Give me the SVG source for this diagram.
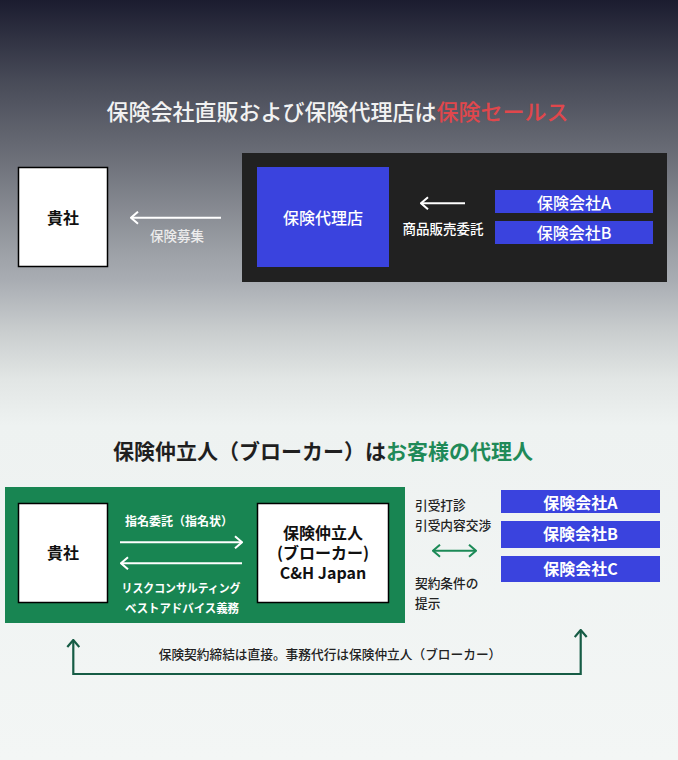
<svg xmlns="http://www.w3.org/2000/svg" width="678" height="760" viewBox="0 0 678 760">
  <defs>
    <linearGradient id="bg" x1="0" y1="0" x2="0" y2="760" gradientUnits="userSpaceOnUse">
      <stop offset="0" stop-color="#1b1c2f"/>
      <stop offset="0.105" stop-color="#474a57"/>
      <stop offset="0.21" stop-color="#6d7079"/>
      <stop offset="0.33" stop-color="#9ca0a6"/>
      <stop offset="0.37" stop-color="#a9adb3"/>
      <stop offset="0.435" stop-color="#c9cdce"/>
      <stop offset="0.5" stop-color="#e2e6e5"/>
      <stop offset="0.56" stop-color="#eef2f1"/>
      <stop offset="1" stop-color="#f3f6f5"/>
    </linearGradient>
    <marker id="ahW" viewBox="0 0 10 14" refX="9" refY="7" markerWidth="10" markerHeight="14" markerUnits="userSpaceOnUse" orient="auto-start-reverse">
      <path d="M2,1 L9,7 L2,13" fill="none" stroke="#ffffff" stroke-width="2"/>
    </marker>
    <marker id="ahG" viewBox="0 0 10 14" refX="9" refY="7" markerWidth="10" markerHeight="14" markerUnits="userSpaceOnUse" orient="auto-start-reverse">
      <path d="M2,1 L9,7 L2,13" fill="none" stroke="#1c8a57" stroke-width="2"/>
    </marker>
    <marker id="ahD" viewBox="0 0 10 14" refX="9" refY="7" markerWidth="10" markerHeight="14" markerUnits="userSpaceOnUse" orient="auto-start-reverse">
      <path d="M2,1 L9,7 L2,13" fill="none" stroke="#165c45" stroke-width="2.2"/>
    </marker>
    <style>
      text { font-family: "Noto Sans CJK JP", "Noto Sans", "Liberation Sans", sans-serif; }
      .title { font-size: 22px; font-weight: 700; text-anchor: middle; }
      .box-white { fill: #ffffff; stroke: #000000; stroke-width: 1.5; }
      .blue { fill: #3a43de; }
      .lbl16 { font-size: 16px; font-weight: 700; text-anchor: middle; }
      .wtxt { fill: #ffffff; }
      .btxt { fill: #111111; }
      .small { font-size: 13.5px; font-weight: 500; text-anchor: middle; }
      .side { font-size: 12.7px; font-weight: 500; fill: #222222; }
      .wl { fill: none; stroke: #ffffff; stroke-width: 2; }
    </style>
  </defs>

  <rect x="0" y="0" width="678" height="760" fill="url(#bg)"/>

  <!-- Top section -->
  <text class="title" x="337.5" y="120" fill="#f2f2f2" style="font-weight:500">保険会社直販および保険代理店は<tspan fill="#e0474c">保険セールス</tspan></text>

  <g id="top-kisha">
    <rect class="box-white" x="18.5" y="167.5" width="89" height="99"/>
    <text class="lbl16 btxt" x="63" y="223.5">貴社</text>
  </g>

  <g id="top-agency-panel">
    <rect x="242" y="153" width="425" height="129" fill="#212121"/>
  </g>

  <g id="top-agency">
    <rect class="blue" x="257" y="167" width="132" height="100"/>
    <text class="lbl16 wtxt" x="323" y="223.5" style="font-weight:500">保険代理店</text>
  </g>

  <g id="top-insurer-a">
    <rect class="blue" x="495" y="190" width="158" height="23"/>
    <text class="lbl16 wtxt" x="574" y="208.5" style="font-weight:500">保険会社A</text>
  </g>
  <g id="top-insurer-b">
    <rect class="blue" x="495" y="221" width="158" height="23"/>
    <text class="lbl16 wtxt" x="574" y="238.5" style="font-weight:500">保険会社B</text>
  </g>

  <!-- Bottom section -->
  <text class="title" x="323" y="458.5" fill="#1f1f1f" style="font-size:21px">保険仲立人（ブローカー）は<tspan fill="#1f8a58">お客様の代理人</tspan></text>

  <g id="bottom-panel">
    <rect x="5" y="487" width="400" height="136" fill="#188552"/>
  </g>

  <g id="bottom-kisha">
    <rect class="box-white" x="18.5" y="503.5" width="89" height="99"/>
    <text class="lbl16 btxt" x="63" y="558.5">貴社</text>
  </g>

  <g id="bottom-broker">
    <rect class="box-white" x="257.5" y="503.5" width="131" height="99"/>
    <text class="lbl16 btxt" x="323" y="538.5"><tspan x="323" y="538.5">保険仲立人</tspan><tspan x="323" y="558.5">(ブローカー)</tspan><tspan x="323" y="579">C&amp;H Japan</tspan></text>
  </g>

  <g id="bottom-insurer-a">
    <rect class="blue" x="501" y="490" width="159" height="23"/>
    <text class="lbl16 wtxt" x="580.5" y="508.5">保険会社A</text>
  </g>
  <g id="bottom-insurer-b">
    <rect class="blue" x="501" y="521" width="159" height="27"/>
    <text class="lbl16 wtxt" x="580.5" y="540">保険会社B</text>
  </g>
  <g id="bottom-insurer-c">
    <rect class="blue" x="501" y="556" width="159" height="26"/>
    <text class="lbl16 wtxt" x="580.5" y="575">保険会社C</text>
  </g>

  <!-- Connectors -->
  <g id="connectors">
    <path class="wl" d="M221,217.7 L131,217.7" marker-end="url(#ahW)"/>
    <path class="wl" d="M465,203.3 L421,203.3" marker-end="url(#ahW)"/>
    <path class="wl" d="M120,542.3 L242,542.3" marker-end="url(#ahW)"/>
    <path class="wl" d="M242,563.3 L121,563.3" marker-end="url(#ahW)"/>
    <path d="M433,550.7 L476,550.7" fill="none" stroke="#1c8a57" stroke-width="2" marker-start="url(#ahG)" marker-end="url(#ahG)"/>
    <path d="M73.3,640 L73.3,674 L580.7,674 L580.7,630" fill="none" stroke="#165c45" stroke-width="2.2" marker-start="url(#ahD)" marker-end="url(#ahD)"/>
  </g>

  <!-- Connector labels -->
  <g id="connector-labels">
    <text class="small" x="177" y="241" fill="#ececec">保険募集</text>
    <text class="small" x="443" y="233.5" fill="#ffffff">商品販売委託</text>
    <text class="small wtxt" x="179" y="525.5" style="font-size:12px;font-weight:700">指名委託（指名状）</text>
    <text class="small wtxt" x="181" y="592.5" style="font-size:12px;font-weight:700" textLength="119" lengthAdjust="spacingAndGlyphs">リスクコンサルティング</text>
    <text class="small wtxt" x="182" y="612.5" style="font-size:12px;font-weight:700" textLength="114" lengthAdjust="spacingAndGlyphs">ベストアドバイス義務</text>
    <text class="side" x="415" y="509.5">引受打診</text>
    <text class="side" x="415" y="529.5">引受内容交渉</text>
    <text class="side" x="415" y="587.5">契約条件の</text>
    <text class="side" x="415" y="607.5">提示</text>
    <text x="330" y="658.5" style="font-size:12.7px;font-weight:500;text-anchor:middle" fill="#222222">保険契約締結は直接。事務代行は保険仲立人（ブローカー）</text>
  </g>
</svg>
